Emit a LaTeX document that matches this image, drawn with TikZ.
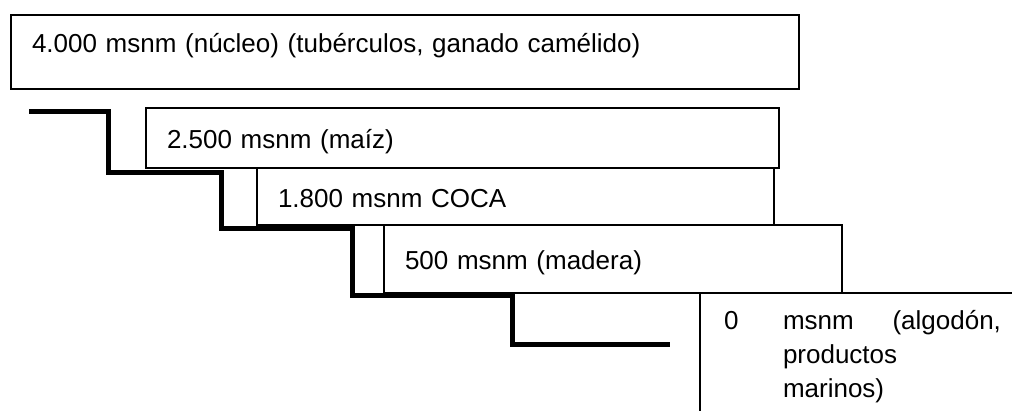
\documentclass[tikz,border=0pt]{standalone}
\usepackage{fontspec}
\setmainfont{Liberation Sans}
\usepackage{tikz}

\begin{document}
\begin{tikzpicture}[x=1pt,y=-1pt,
  piso/.style={draw,line width=2pt,anchor=north west,inner xsep=21pt,align=left,
    font=\fontsize{26}{34}\selectfont},
  linea/.style={piso,inner ysep=0pt,text height=25pt,text depth=3pt},
  escalera/.style={line width=5pt,line join=miter}]
\useasboundingbox (0,0) rectangle (1012,411);
\clip (0,0) rectangle (1012,411);

\node[linea,text width=746pt,minimum height=74pt,text depth=23pt] (4000) at (10,14) {4.000 msnm (núcleo) (tubérculos, ganado camélido)};

\node[linea,text width=591pt,minimum height=60pt] (2500) at (145,107) {2.500 msnm (maíz)};
\node[linea,text width=475pt,minimum height=57pt] (1800) at (256,167) {1.800 msnm COCA};
\node[linea,text width=416pt,minimum height=68pt] (500) at (383,224) {500 msnm (madera)};

\node[piso,inner xsep=24pt,inner ysep=17pt,text width=277pt] (0) at (699,292)
  {\makebox[59pt][l]{0}msnm\hfill(algodón,\\\hspace*{59pt}productos\\\hspace*{59pt}marinos)};

\draw[escalera] (29,112) -| (108,173) -| (221,229) -| (352,296) -| (512,345) -- (670,345);

\end{tikzpicture}
\end{document}
